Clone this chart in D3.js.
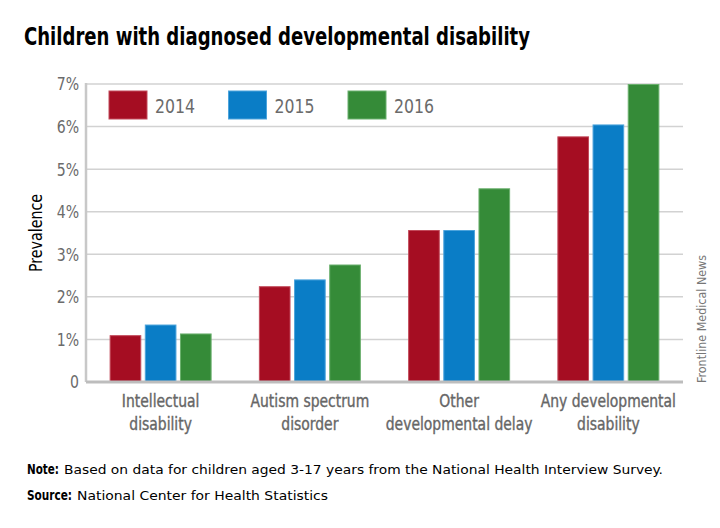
<!DOCTYPE html>
<html><head><meta charset="utf-8">
<script src="https://cdn.jsdelivr.net/npm/d3@7"></script>
<style>body{margin:0;background:#fff}svg{display:block}text{font-family:"DejaVu Sans Condensed","DejaVu Sans","Liberation Sans",Arial,sans-serif}</style>
</head><body>
<script>
const categories = [["Intellectual","disability"],["Autism spectrum","disorder"],["Other","developmental delay"],["Any developmental","disability"]];
const years = ["2014","2015","2016"];
const values2014 = [1.10, 2.25, 3.57, 5.77];
const values2015 = [1.35, 2.41, 3.57, 6.05];
const values2016 = [1.14, 2.76, 4.55, 7.00];
const yTicks = [0,1,2,3,4,5,6,7];
const colors = ["#a50d22","#0a7dc6","#358b38"];
const strokes = ["#c24a5a","#4da4dc","#6bb06e"];
const series = [values2014, values2015, values2016];

const W=720,H=528;
const svg = d3.select("body").append("svg").attr("width",W).attr("height",H);
function condense(sel,k){ sel.each(function(){ const w=this.getComputedTextLength(); d3.select(this).attr("textLength",w*k).attr("lengthAdjust","spacingAndGlyphs");}); }
function fitTo(sel,w){ sel.attr("textLength",w).attr("lengthAdjust","spacingAndGlyphs"); }

const x0 = d3.scaleBand().domain(d3.range(categories.length)).range([86,683]);
const x1 = d3.scaleBand().domain(d3.range(years.length)).range([0,102]).paddingInner(0.1);
const y = d3.scaleLinear().domain([0,7]).range([382,84]);
const groupOffset = (x0.bandwidth()-102)/2;

// title
svg.append("text").attr("x",24).attr("y",45).attr("font-size",24).attr("font-weight","bold").attr("fill","#000")
  .text("Children with diagnosed developmental disability").call(fitTo,506);

// gridlines
svg.append("g").selectAll("line").data(yTicks.filter(d=>d>0)).join("line")
  .attr("x1",86).attr("x2",683).attr("y1",d=>y(d)).attr("y2",d=>y(d))
  .attr("stroke","#d2d2d2").attr("stroke-width",1.5);

// y axis
const yAxis = d3.axisLeft(y).tickValues(yTicks).tickSize(0).tickPadding(7).tickFormat(d=>d===0?"0":d+"%");
const ya = svg.append("g").attr("transform","translate(86,0)").call(yAxis);
ya.select(".domain").remove();
ya.selectAll("text").attr("font-size",17).attr("fill","#6b6b6b").attr("font-family",null).attr("dy","0.35em").call(condense,0.92);
svg.append("line").attr("x1",86).attr("x2",86).attr("y1",83).attr("y2",382).attr("stroke","#c8c8c8").attr("stroke-width",2.5);

// bars
const g = svg.append("g").selectAll("g").data(categories).join("g")
  .attr("transform",(d,i)=>`translate(${x0(i)+groupOffset},0)`);
g.selectAll("rect").data((d,i)=>series.map((s,j)=>({j,v:s[i]}))).join("rect")
  .attr("x",d=>x1(d.j)+0.5).attr("width",x1.bandwidth()-1)
  .attr("y",d=>y(d.v)+0.5).attr("height",d=>y(0)-y(d.v))
  .attr("fill",d=>colors[d.j]).attr("stroke",d=>strokes[d.j]).attr("stroke-width",1);

// bottom axis
svg.append("line").attr("x1",86).attr("x2",683).attr("y1",382).attr("y2",382).attr("stroke","#bdbdbd").attr("stroke-width",3);

// x labels
categories.forEach((lines,i)=>{
  lines.forEach((line,k)=>{
    svg.append("text").attr("x",x0(i)+x0.bandwidth()/2).attr("y",407+k*23).attr("text-anchor","middle")
      .attr("font-size",17).attr("fill","#666").attr("stroke","#666").attr("stroke-width",0.35)
      .text(line).call(condense,0.91);
  });
});

// y label
svg.append("text").attr("transform","translate(42,233) rotate(-90)").attr("text-anchor","middle")
  .attr("font-size",18).attr("fill","#000").text("Prevalence").call(condense,0.88);

// legend
const lg = svg.append("g").selectAll("g").data(years).join("g")
  .attr("transform",(d,i)=>`translate(${109+i*119.5},91)`);
lg.append("rect").attr("width",38).attr("height",28).attr("fill",(d,i)=>colors[i]).attr("stroke",(d,i)=>strokes[i]);
lg.append("text").attr("x",46).attr("y",22).attr("font-size",19).attr("fill","#6b6b6b").text(d=>d).call(condense,0.92);

// credit
svg.append("text").attr("transform","translate(706,383) rotate(-90)").attr("font-size",13).attr("fill","#777")
  .attr("font-family","'Liberation Sans',Arial,sans-serif").text("Frontline Medical News").call(fitTo,128);

// notes
const notePrefixes = ["Note:","Source:"];
const noteBodies = ["Based on data for children aged 3-17 years from the National Health Interview Survey.","National Center for Health Statistics"];
const noteY = [474,500], prefixW = [32,45], bodyX = [64,77], bodyW = [599,251];
notePrefixes.forEach((p,i)=>{
  svg.append("text").attr("x",27).attr("y",noteY[i]).attr("font-size",13.5).attr("font-weight","bold").attr("fill","#000").text(p).call(fitTo,prefixW[i]);
  svg.append("text").attr("x",bodyX[i]).attr("y",noteY[i]).attr("font-size",13).attr("fill","#000")
    .attr("font-family","'DejaVu Sans',Verdana,sans-serif").text(noteBodies[i]).call(fitTo,bodyW[i]);
});
</script>
</body></html>
